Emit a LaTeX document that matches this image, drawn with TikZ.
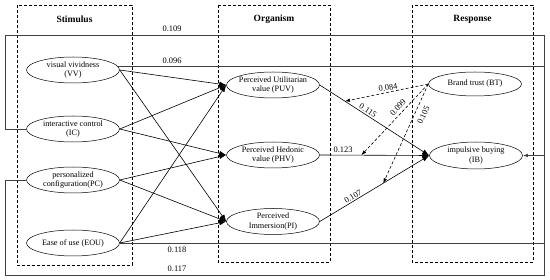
\documentclass[tikz,border=0pt]{standalone}
\usepackage{fontspec}
\setmainfont{Liberation Serif}
\usetikzlibrary{arrows.meta,shapes.geometric}
\begin{document}
\begin{tikzpicture}[x=1pt,y=-1pt,
  oval/.style={draw, ellipse, minimum width=93pt, minimum height=26pt, inner sep=0pt, line width=0.5pt},
  ovaltext/.style={align=center, font=\fontsize{8.2}{9.8}\selectfont, inner sep=0pt},
  lab/.style={font=\fontsize{8.4}{10}\selectfont, inner sep=0.8pt},
  title/.style={font=\fontsize{9.5}{11}\selectfont\bfseries, inner sep=0pt},
  dashbox/.style={draw, dash pattern=on 3pt off 2pt, line width=0.6pt},
  arr/.style={-{Latex[length=7pt,width=5pt]}, line width=0.6pt},
  darr/.style={dash pattern=on 3pt off 2pt, -{Latex[length=5pt,width=3.5pt]}, line width=0.6pt},
  frame/.style={draw=black!75, line width=0.9pt},
  farr/.style={draw=black!75, line width=0.9pt, -{Latex[length=5pt,width=3.5pt]}}]
\useasboundingbox (0,0) rectangle (550,280);
% dashed boxes
\draw[dashbox] (17,5) rectangle (132,265);
\draw[dashbox] (218,5) rectangle (330,262);
\draw[dashbox] (412,5) rectangle (533,262);
\node[title] (tS) at (74.5,19) {Stimulus};
\node[title] (tO) at (274,19) {Organism};
\node[title] (tR) at (472.5,19) {Response};
% ellipses
\node[oval] (VV) at (73,70) {};
\node[ovaltext] (VVt) at (VV) {visual vividness\\(VV)};
\node[oval] (IC) at (73,129) {};
\node[ovaltext] (ICt) at (IC) {interactive control\\(IC)};
\node[oval] (PC) at (73,180) {};
\node[ovaltext] (PCt) at (PC) {personalized\\configuration(PC)};
\node[oval] (EOU) at (73,243) {};
\node[ovaltext] (EOUt) at (EOU) {Ease of use (EOU)};
\node[oval] (PUV) at (273,85) {};
\node[ovaltext] (PUVt) at (PUV) {Perceived Utilitarian\\value (PUV)};
\node[oval] (PHV) at (273,155) {};
\node[ovaltext] (PHVt) at (PHV) {Perceived Hedonic\\value (PHV)};
\node[oval] (PI) at (273,221.5) {};
\node[ovaltext] (PIt) at (PI) {Perceived\\Immersion(PI)};
\node[oval, minimum height=24pt] (BT) at (475,84) {};
\node[ovaltext] (BTt) at (BT) {Brand trust (BT)};
\node[oval, minimum height=27pt] (IB) at (476,155.5) {};
\node[ovaltext] (IBt) at (IB) {impulsive buying\\(IB)};
% outer frame paths
\coordinate (TL) at (5,35);
\coordinate (TR) at (544,35);
\coordinate (BR) at (544,275);
\coordinate (BL) at (5,275);
\draw[frame] (IC.west) -| (TL) -- (TR) -- (BR) -- (BL) |- (PC.west);
\draw[frame] (VV.4) -- (VV.4 -| TR);
\draw[frame] (EOU.east) -- (EOU.east -| TR);
\draw[farr] (IB.east -| TR) -- (IB.east);
\node[lab] (l109) at (172,29) {0.109};
\node[lab] (l096) at (172,61) {0.096};
\node[lab] (l118) at (177,249.5) {0.118};
\node[lab] (l117) at (177,269) {0.117};
% stimulus -> organism
\draw[arr] (VV.east) -- (PUV.west);
\draw[arr] (VV.east) -- (PI.west);
\draw[arr] (IC.east) -- (PUV.west);
\draw[arr] (IC.east) -- (PHV.west);
\draw[arr] (PC.east) -- (PHV.west);
\draw[arr] (PC.east) -- (PI.west);
\draw[arr] (EOU.east) -- (PUV.west);
\draw[arr] (EOU.east) -- (PI.west);
% organism -> response
\draw[arr] (PUV.east) -- coordinate[pos=0.23] (M1) (IB.west);
\draw[arr] (PHV.east) -- coordinate[pos=0.38] (M2) (IB.west);
\draw[arr] (PI.east) -- coordinate[pos=0.58] (M3) (IB.west);
\node[lab, rotate=-32.5] (l115) at (368,110.5) {0.115};
\node[lab] (l123) at (343,150) {0.123};
\node[lab, rotate=31] (l107) at (353,196.5) {0.107};
% moderation
\draw[darr] (BT.west) -- (M1);
\draw[darr] (BT.west) -- (M2);
\draw[darr] (BT.west) -- (M3);
\node[lab, rotate=10] (l084) at (388,87.5) {0.084};
\node[lab, rotate=47] (l099) at (398,107.5) {0.099};
\node[lab, rotate=65] (l105) at (423.5,115) {0.105};
\end{tikzpicture}
\end{document}
